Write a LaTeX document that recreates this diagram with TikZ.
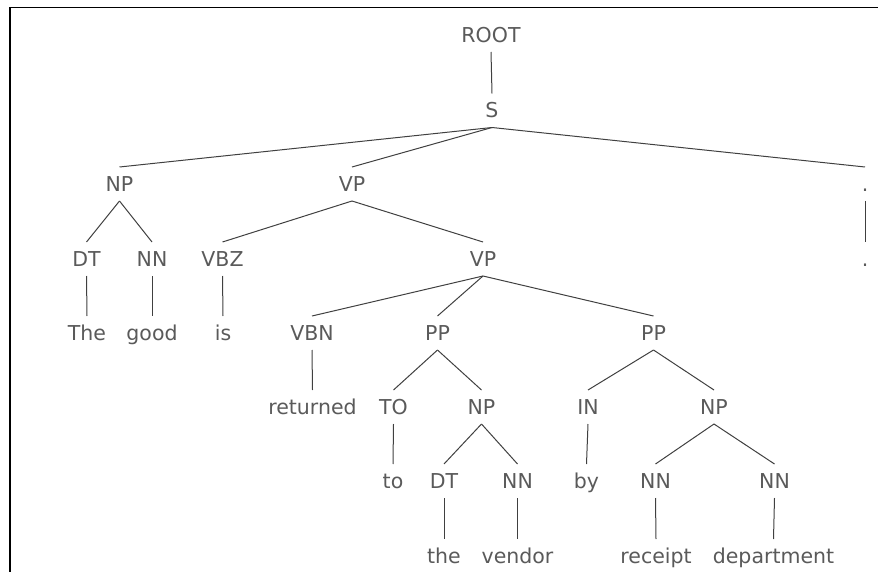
\documentclass[tikz,border=0pt]{standalone}
\usepackage{fontspec}
\setmainfont{DejaVu Sans}
\usepackage{tikz}
\usetikzlibrary{positioning}
\definecolor{tagtext}{HTML}{5A5A5A}
\definecolor{treeline}{HTML}{404040}

\begin{document}
\begin{tikzpicture}[x=1bp, y=-1bp,
  tag/.style={text=tagtext, font=\fontsize{20.5bp}{24bp}\selectfont, text height=15bp, text depth=0pt, inner xsep=0pt, inner ysep=0pt, outer xsep=0pt, outer ysep=9.5bp},
  branch/.style={draw=treeline, line width=1bp}]
\useasboundingbox (0,0) rectangle (878,572);
\draw[line width=1.5bp] (10,572) -- (10,7.3) -- (878,7.3);
% nodes, one row per level
\node[tag] (root) at (491, 35) {ROOT};
\node[tag] (s) at (492, 110.5) {S};
\node[tag] (np1) at (119.5, 184) {NP};
\node[tag] (vp1) at (352, 184) {VP};
\node[tag] (dot1) at (865, 184) {.};
\node[tag] (dt1) at (86.5, 259) {DT};
\node[tag] (nn1) at (152, 259) {NN};
\node[tag] (vbz) at (222.5, 259) {VBZ};
\node[tag] (vp2) at (483, 259) {VP};
\node[tag] (dot2) at (865, 259) {.};
\node[tag] (the1) at (87, 333) {The};
\node[tag] (good) at (152, 333) {good};
\node[tag] (is) at (223, 333) {is};
\node[tag] (vbn) at (312, 333) {VBN};
\node[tag] (pp1) at (437.5, 333) {PP};
\node[tag] (pp2) at (653.5, 333) {PP};
\node[tag] (returned) at (312.5, 407) {returned};
\node[tag] (to1) at (393.5, 407) {TO};
\node[tag] (np2) at (481.5, 407) {NP};
\node[tag] (in) at (588, 407) {IN};
\node[tag] (np3) at (714, 407) {NP};
\node[tag] (to2) at (393, 481) {to};
\node[tag] (dt2) at (444, 481) {DT};
\node[tag] (nn2) at (517.5, 481) {NN};
\node[tag] (by) at (586.5, 481) {by};
\node[tag] (nn3) at (655.5, 481) {NN};
\node[tag] (nn4) at (774.5, 481) {NN};
\node[tag] (the2) at (444, 556) {the};
\node[tag] (vendor) at (517.5, 556) {vendor};
\node[tag] (receipt) at (656, 556) {receipt};
\node[tag] (department) at (773.5, 556) {department};
% branches
\draw[branch] (root.south) -- (s.north);
\draw[branch] (s.south) -- (np1.north);
\draw[branch] (s.south) -- (vp1.north);
\draw[branch] (s.south) -- (dot1.north);
\draw[branch] (np1.south) -- (dt1.north);
\draw[branch] (np1.south) -- (nn1.north);
\draw[branch] (vp1.south) -- (vbz.north);
\draw[branch] (vp1.south) -- (vp2.north);
\draw[branch] (dot1.south) -- (dot2.north);
\draw[branch] (dt1.south) -- (the1.north);
\draw[branch] (nn1.south) -- (good.north);
\draw[branch] (vbz.south) -- (is.north);
\draw[branch] (vp2.south) -- (vbn.north);
\draw[branch] (vp2.south) -- (pp1.north);
\draw[branch] (vp2.south) -- (pp2.north);
\draw[branch] (vbn.south) -- (returned.north);
\draw[branch] (pp1.south) -- (to1.north);
\draw[branch] (pp1.south) -- (np2.north);
\draw[branch] (pp2.south) -- (in.north);
\draw[branch] (pp2.south) -- (np3.north);
\draw[branch] (to1.south) -- (to2.north);
\draw[branch] (np2.south) -- (dt2.north);
\draw[branch] (np2.south) -- (nn2.north);
\draw[branch] (in.south) -- (by.north);
\draw[branch] (np3.south) -- (nn3.north);
\draw[branch] (np3.south) -- (nn4.north);
\draw[branch] (dt2.south) -- (the2.north);
\draw[branch] (nn2.south) -- (vendor.north);
\draw[branch] (nn3.south) -- (receipt.north);
\draw[branch] (nn4.south) -- (department.north);
\end{tikzpicture}
\end{document}
